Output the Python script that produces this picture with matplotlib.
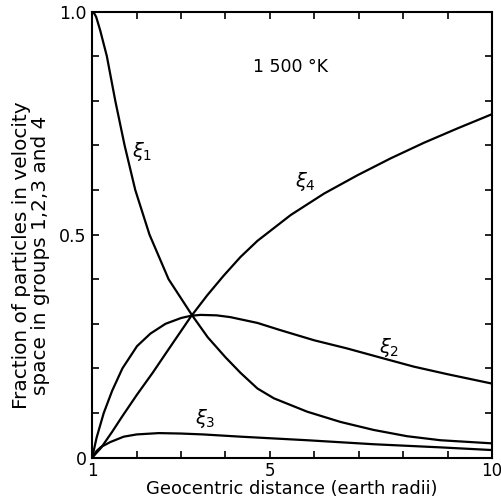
import matplotlib
matplotlib.use("Agg")
import matplotlib.pyplot as plt

# Values (1500 K)
x1 = [1, 1.04, 1.09, 1.18, 1.33, 1.52, 1.73, 1.97, 2.29, 2.72, 3.25, 3.6, 4.0, 4.34, 4.72, 5.09, 5.84, 6.59, 7.34, 8.09, 8.84, 10]
xi1 = [1.0, 0.997, 0.988, 0.958, 0.9, 0.8, 0.7, 0.6, 0.5, 0.4, 0.319, 0.27, 0.225, 0.19, 0.155, 0.133, 0.103, 0.080, 0.062, 0.048, 0.039, 0.032]

x2 = [1, 1.1, 1.26, 1.45, 1.68, 2.01, 2.31, 2.65, 3.0, 3.22, 3.44, 3.8, 4.11, 4.72, 5.23, 6.0, 6.73, 7.5, 8.24, 9.0, 10]
xi2 = [0, 0.045, 0.1, 0.15, 0.2, 0.25, 0.278, 0.3, 0.313, 0.318, 0.32, 0.319, 0.315, 0.302, 0.286, 0.263, 0.245, 0.224, 0.204, 0.187, 0.166]

x3 = [1, 1.1, 1.2, 1.41, 1.71, 2.0, 2.5, 3.0, 3.5, 4.34, 5.84, 7.34, 8.84, 10]
xi3 = [0, 0.015, 0.024, 0.035, 0.047, 0.052, 0.055, 0.054, 0.052, 0.047, 0.039, 0.030, 0.023, 0.017]

x4 = [1, 1.2, 1.45, 1.68, 2.0, 2.36, 2.7, 3.07, 3.22, 3.59, 3.96, 4.34, 4.72, 5.47, 6.22, 6.97, 7.72, 8.47, 9.22, 10]
xi4 = [0, 0.022, 0.058, 0.093, 0.14, 0.19, 0.24, 0.294, 0.316, 0.364, 0.408, 0.45, 0.486, 0.544, 0.592, 0.633, 0.671, 0.706, 0.738, 0.770]

curve_labels = [r"$\xi_1$", r"$\xi_2$", r"$\xi_3$", r"$\xi_4$"]
label_pos = [(2.13, 0.686), (7.68, 0.248), (3.55, 0.088), (5.80, 0.618)]

xticks = list(range(1, 11))
xticklabels = ["1", "", "", "", "5", "", "", "", "", "10"]
yticks = [i / 10 for i in range(11)]
yticklabels = ["0", "", "", "", "", "0.5", "", "", "", "", "1.0"]

plt.rcParams["font.family"] = "DejaVu Sans"

fig = plt.figure(figsize=(5.01, 5.04), dpi=100)
ax = fig.add_axes([0.184, 0.092, 0.798, 0.885])

for xs, ys in [(x1, xi1), (x2, xi2), (x3, xi3), (x4, xi4)]:
    ax.plot(xs, ys, color="black", linewidth=1.6, solid_joinstyle="round")

for lab, (lx, ly) in zip(curve_labels, label_pos):
    ax.text(lx, ly, lab, fontsize=14, ha="center", va="center")

ax.text(5.46, 0.876, "1 500 °K", fontsize=12.5, ha="center", va="center")

ax.set_xlim(1, 10)
ax.set_ylim(0, 1.0)
ax.set_xticks(xticks)
ax.set_xticklabels(xticklabels, fontsize=12)
ax.set_yticks(yticks)
ax.set_yticklabels(yticklabels, fontsize=12.5)
ax.tick_params(direction="in", length=5, width=1.2, top=True, right=True)
ax.tick_params(axis="x", pad=3)
ax.tick_params(axis="y", pad=4)

for s in ax.spines.values():
    s.set_linewidth(1.5)

ax.set_xlabel("Geocentric distance (earth radii)", fontsize=12.9, labelpad=0)
ax.set_ylabel("Fraction of particles in velocity\nspace in groups 1,2,3 and 4",
              fontsize=14.4, linespacing=1.0)
ax.yaxis.set_label_coords(-0.105, 0.454)

fig.savefig("out.png", dpi=100)
plt.close(fig)
